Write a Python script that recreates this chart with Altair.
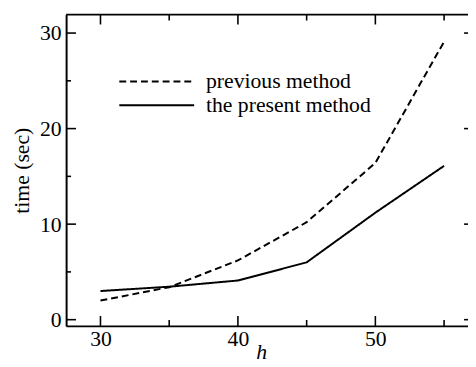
import altair as alt
import pandas as pd

h = [30, 35, 40, 45, 50, 55]
previous = [2.0, 3.4, 6.2, 10.2, 16.4, 29.1]
present = [3.0, 3.45, 4.1, 6.0, 11.2, 16.1]
x_major = [30, 40, 50]
x_minor = [35, 45, 55]
y_major = [0, 10, 20, 30]
y_minor = [5, 15, 25]
legend_labels = ["previous method", "the present method"]

W, H = 408, 316
FONT = "Liberation Serif"

xs = alt.Scale(domain=[27.5, 56.74], nice=False, zero=False)
ys = alt.Scale(domain=[-0.65, 31.93], nice=False, zero=False)
xaxis = alt.Axis(values=x_major, title="h", titleFontStyle="italic",
                 labelPadding=3, titlePadding=-8, titleX=198)
yaxis = alt.Axis(values=y_major, title="time (sec)", labelPadding=5, titlePadding=6)

df = pd.DataFrame({
    "h": h + h,
    "t": previous + present,
    "method": [legend_labels[0]] * len(h) + [legend_labels[1]] * len(h),
})

lines = alt.Chart(df).mark_line(color="black", strokeWidth=2).encode(
    x=alt.X("h:Q", scale=xs, axis=xaxis),
    y=alt.Y("t:Q", scale=ys, axis=yaxis),
    strokeDash=alt.StrokeDash("method:N",
                              scale=alt.Scale(domain=legend_labels, range=[[7, 4], [1, 0]]),
                              legend=None),
)

def xticks(vals, length, top):
    d = pd.DataFrame({"v": vals})
    if top:
        yy, yy2 = alt.value(0), alt.value(length)
    else:
        yy, yy2 = alt.value(H), alt.value(H - length)
    return alt.Chart(d).mark_rule(color="black", strokeWidth=1.6).encode(
        x=alt.X("v:Q", scale=xs, axis=xaxis), y=yy, y2=yy2)

def yticks(vals, length, right):
    d = pd.DataFrame({"v": vals})
    if right:
        xx, xx2 = alt.value(W), alt.value(W - length)
    else:
        xx, xx2 = alt.value(0), alt.value(length)
    return alt.Chart(d).mark_rule(color="black", strokeWidth=1.6).encode(
        y=alt.Y("v:Q", scale=ys, axis=yaxis), x=xx, x2=xx2)

ticks = [
    xticks(x_major, 10, False), xticks(x_minor, 6, False),
    xticks(x_major, 10, True), xticks(x_minor, 6, True),
    yticks(y_major, 10, False), yticks(y_minor, 5, False),
    yticks(y_major, 4, True),
]

top_border = alt.Chart(pd.DataFrame({"a": [0]})).mark_rule(color="black", strokeWidth=2).encode(
    x=alt.value(0), x2=alt.value(W), y=alt.value(0))

leg0 = pd.DataFrame({"label": [legend_labels[0]]})
leg1 = pd.DataFrame({"label": [legend_labels[1]]})
leg_line0 = alt.Chart(leg0).mark_rule(color="black", strokeWidth=2, strokeDash=[7, 4]).encode(
    x=alt.value(54), x2=alt.value(130), y=alt.value(68))
leg_line1 = alt.Chart(leg1).mark_rule(color="black", strokeWidth=2).encode(
    x=alt.value(54), x2=alt.value(130), y=alt.value(92))
leg_text0 = alt.Chart(leg0).mark_text(font=FONT, fontSize=22, align="left", baseline="middle",
                                      color="black").encode(
    x=alt.value(142), y=alt.value(68), text="label:N")
leg_text1 = alt.Chart(leg1).mark_text(font=FONT, fontSize=22, align="left", baseline="middle",
                                      color="black").encode(
    x=alt.value(142), y=alt.value(92), text="label:N")

chart = alt.layer(
    lines, *ticks, top_border, leg_line0, leg_line1, leg_text0, leg_text1
).properties(
    width=W, height=H,
    autosize=alt.AutoSizeParams(type="none"),
    padding={"left": 59, "top": 4, "right": 0, "bottom": 38},
    background="white",
).configure_view(stroke=None).configure_axis(
    domainColor="black", domainWidth=2, ticks=False, grid=False,
    labelFont=FONT, labelFontSize=22, labelColor="black",
    titleFont=FONT, titleFontSize=22, titleFontWeight="normal", titleColor="black",
)

chart.save("out.html", embed_options={"renderer": "svg", "actions": False})
